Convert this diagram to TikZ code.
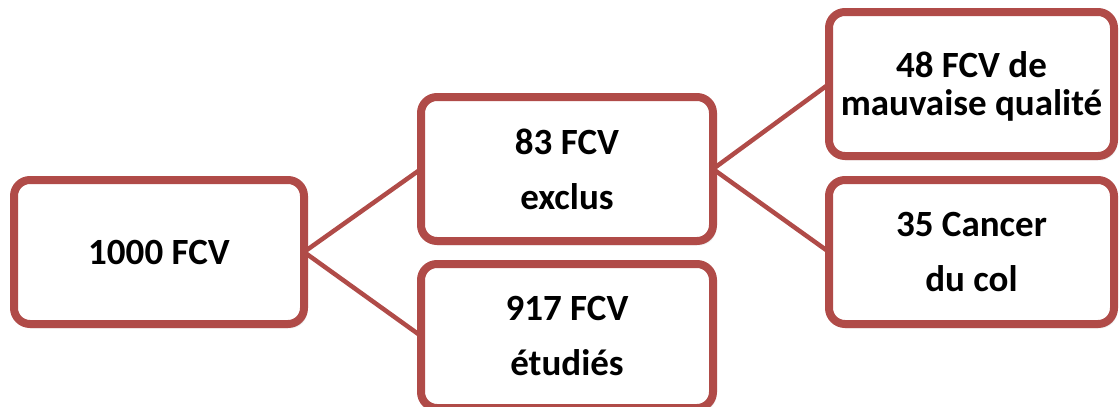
\documentclass[tikz,border=0pt]{standalone}
\usepackage{fontspec}
\setmainfont{Carlito}
\usetikzlibrary{shadows.blur}
\definecolor{boxred}{RGB}{176,75,72}
\pgfdeclarelayer{background}
\pgfsetlayers{background,main}
\tikzset{
  box/.style={draw=boxred, line width=8pt, rounded corners=16pt, fill=white,
    minimum width=290pt, minimum height=144pt, outer sep=0pt, inner sep=0pt,
    align=center, text depth=0pt,
    font=\fontsize{37}{55}\selectfont\bfseries,
    blur shadow={shadow xshift=2pt, shadow yshift=-3pt, shadow blur steps=6, shadow opacity=30}},
  link/.style={draw=boxred, line width=4.5pt}
}
\begin{document}
\begin{tikzpicture}[x=1pt, y=-1pt]
  \useasboundingbox (0,0) rectangle (1120,407);
  \node[box] (total)  at (159,252)   {1000 FCV};
  \node[box, minimum width=292pt] (excl)  at (567,169)   {83 FCV\\exclus};
  \node[box, minimum width=292pt] (etud)  at (567,336)   {917 FCV\\étudiés};
  \node[box, minimum width=285pt, font=\fontsize{37}{38}\selectfont\bfseries] (qual) at (971.5,84) {48 FCV de\\mauvaise qualité};
  \node[box, minimum width=285pt] (canc)  at (971.5,252) {35 Cancer\\du col};
  \begin{pgfonlayer}{background}
    \draw[link] (total.east) -- (excl.west);
    \draw[link] (total.east) -- (etud.west);
    \draw[link] (excl.east) -- (qual.west);
    \draw[link] (excl.east) -- (canc.west);
  \end{pgfonlayer}
\end{tikzpicture}
\end{document}
